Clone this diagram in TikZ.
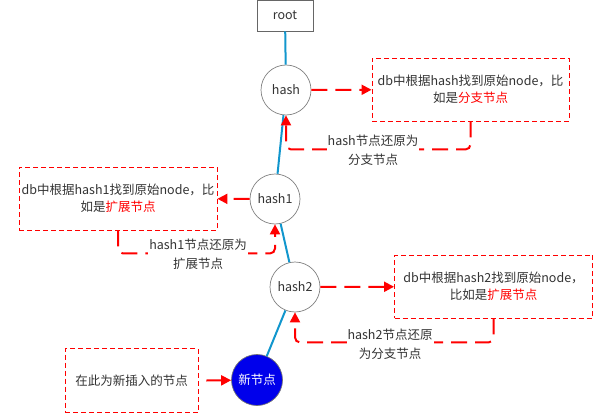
\documentclass[tikz,border=0pt]{standalone}
\usepackage{fontspec}
\setmainfont{Noto Sans CJK SC}
\usetikzlibrary{arrows.meta}
\definecolor{txt}{RGB}{51,51,51}
\definecolor{lnblue}{RGB}{17,150,205}
\definecolor{myred}{RGB}{255,0,0}
\definecolor{nblue}{RGB}{0,0,235}
\tikzset{
  every node/.style={font=\fontsize{12.5}{17}\selectfont, text=txt},
  hnode/.style={circle, draw=black!50, line width=0.7pt, minimum size=50pt, inner sep=0pt},
  newnode/.style={circle, draw=black!55, fill=nblue, line width=0.7pt, minimum size=51pt, inner sep=0pt, text=white},
  rootbox/.style={draw=black!60, line width=0.7pt, minimum width=56pt, minimum height=31pt, inner sep=0pt},
  infobox/.style={draw=myred, dash pattern=on 5pt off 3pt, line width=0.9pt, inner sep=0pt, align=center},
  tree/.style={draw=lnblue, line width=2pt},
  look/.style={draw=myred, line width=2pt, dash pattern=on 16pt off 8pt, -{Triangle[length=10pt,width=10pt]}},
  ret/.style={look, rounded corners=5pt},
  lbl/.style={fill=white, align=center, inner sep=1pt, font=\fontsize{12.5}{19}\selectfont}
}
\newcommand{\rd}[1]{\textcolor{myred}{#1}}
\begin{document}
\begin{tikzpicture}[x=1pt,y=-1pt]
\useasboundingbox (0,0) rectangle (593,414);
% nodes
\node[rootbox] (root) at (285,15.5) {root};
\node[hnode] (h) at (286,90) {hash};
\node[hnode] (h1) at (275,199) {hash1};
\node[hnode] (h2) at (295,287) {hash2};
\node[newnode] (n) at (257,380) {新节点};
\node[infobox, minimum width=197pt, minimum height=63pt] (b0) at (470.5,89.5) {db中根据hash找到原始node，比\\如是\rd{分支节点}};
\node[infobox, minimum width=198pt, minimum height=63pt] (b1) at (118,198.5) {db中根据hash1找到原始node，比\\如是\rd{扩展节点}};
\node[infobox, minimum width=198pt, minimum height=63pt] (b2) at (493.5,286.5) {db中根据hash2找到原始node，\\比如是\rd{扩展节点}};
\node[infobox, minimum width=133pt, minimum height=64pt] (b3) at (131.5,380.5) {在此为新插入的节点};
% tree lines
\draw[tree] (root) -- (h);
\draw[tree] (h) -- (h1);
\draw[tree] (h1) -- (h2);
\draw[tree] (n) -- (h2);
% lookups
\draw[look] (h) -- (b0);
\draw[look] (h1) -- (b1);
\draw[look] (h2) -- (b2);
\draw[draw=myred, line width=2pt, -{Triangle[length=10pt,width=10pt]}] ([xshift=8pt]b3.east) -- (n);
% returns
\draw[ret] (b0.south) -- ++(0,28) -| (h.south);
\draw[ret] (b1.south) -- ++(0,23) -| (h1.south);
\draw[ret] (b2.south) -- ++(0,24) -| (h2.south);
% labels
\node[lbl] (l0) at (373,150) {hash节点还原为\\分支节点};
\node[lbl] (l1) at (198,254.5) {hash1节点还原为\\扩展节点};
\node[lbl] (l2) at (390,344) {hash2节点还原\\为分支节点};
\end{tikzpicture}
\end{document}
